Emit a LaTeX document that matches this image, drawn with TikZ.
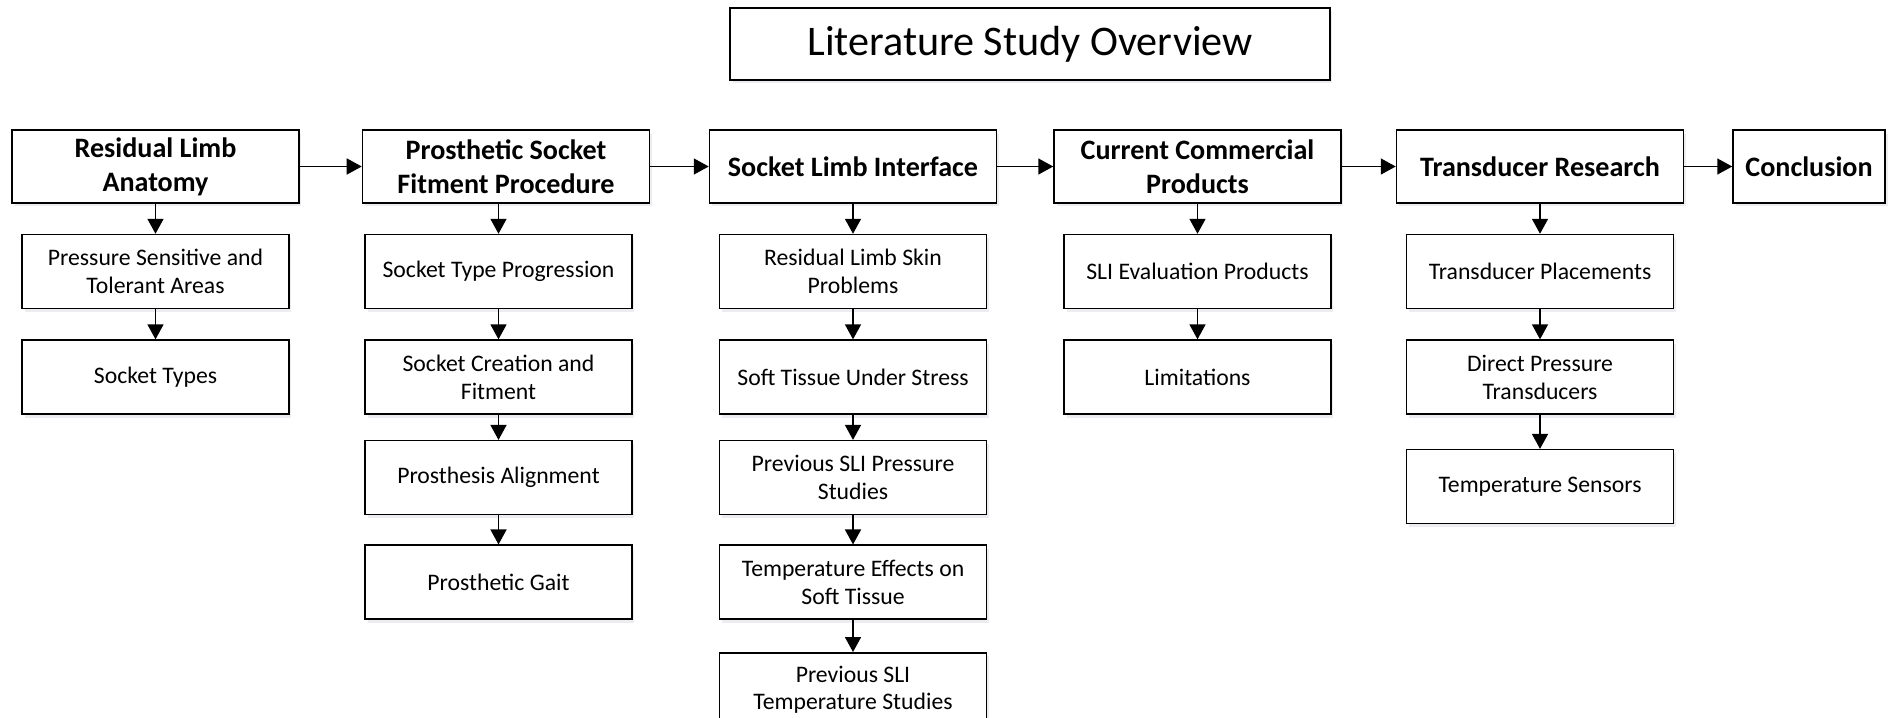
\documentclass[tikz,border=0pt]{standalone}
\usepackage{fontspec}
\setmainfont{Carlito}
\usetikzlibrary{arrows.meta,positioning,shadows}

\tikzset{
    box/.style={draw, line width=0.9pt, fill=white, align=center, inner sep=2pt,
        drop shadow={shadow xshift=0.05cm, shadow yshift=-0.07cm, fill=blue!30!black!15, opacity=0.5}},
    mainbox/.style={box, minimum width=5.74cm, minimum height=1.46cm,
        font=\fontsize{16}{19.5}\selectfont\bfseries},
    subbox/.style={box, minimum width=5.34cm, minimum height=1.48cm,
        font=\fontsize{13.5}{15.8}\selectfont},
    titlebox/.style={box, minimum width=12cm, minimum height=1.44cm,
        font=\fontsize{24}{28}\selectfont},
    arr/.style={-{Triangle[length=0.3cm,width=0.32cm]}, line width=0.9pt},
}

\begin{document}
\begin{tikzpicture}[x=0.02cm, y=-0.02cm, node distance=0.6cm]
        \useasboundingbox (0,0) rectangle (1892,717);
        % title
        \node[titlebox] (title) at (1030,44) {Literature Study Overview};
        % main row
        \node[mainbox] (anat)  at (155.5,166.5)  {Residual Limb\\Anatomy};
        \node[mainbox] (fit)   at (506,166.5)    {Prosthetic Socket\\Fitment Procedure};
        \node[mainbox] (sli)   at (853,166.5)    {Socket Limb Interface};
        \node[mainbox] (comm)  at (1197.5,166.5) {Current Commercial\\Products};
        \node[mainbox] (trans) at (1540,166.5)   {Transducer Research};
        \node[mainbox, minimum width=3.04cm] (concl) at (1809,166.5) {Conclusion};
        % anatomy
        \node[subbox, below=of anat]  (anat1) {Pressure Sensitive and\\Tolerant Areas};
        \node[subbox, below=of anat1] (anat2) {Socket Types};
        % fitment
        \node[subbox, below=of fit, xshift=-0.15cm] (fit1) {Socket Type Progression};
        \node[subbox, below=of fit1]              (fit2) {Socket Creation and\\Fitment};
        \node[subbox, below=0.5cm of fit2]        (fit3) {Prosthesis Alignment};
        \node[subbox, below=0.58cm of fit3]       (fit4) {Prosthetic Gait};
        % interface
        \node[subbox, below=of sli]               (sli1) {Residual Limb Skin\\Problems};
        \node[subbox, below=of sli1]              (sli2) {Soft Tissue Under Stress};
        \node[subbox, below=0.5cm of sli2]        (sli3) {Previous SLI Pressure\\Studies};
        \node[subbox, below=0.58cm of sli3]       (sli4) {Temperature Effects on\\Soft Tissue};
        \node[subbox, below=0.64cm of sli4]       (sli5) {Previous SLI\\Temperature Studies};
        % commercial
        \node[subbox, below=of comm]              (comm1) {SLI Evaluation Products};
        \node[subbox, below=of comm1]             (comm2) {Limitations};
        % transducers
        \node[subbox, below=of trans]             (trans1) {Transducer Placements};
        \node[subbox, below=of trans1]            (trans2) {Direct Pressure\\Transducers};
        \node[subbox, below=0.68cm of trans2]     (trans3) {Temperature Sensors};

        \draw[arr] (anat) -- (fit);
        \draw[arr] (fit) -- (sli);
        \draw[arr] (sli) -- (comm);
        \draw[arr] (comm) -- (trans);
        \draw[arr] (trans) -- (concl);

        \draw[arr] (anat) -- (anat1);
        \draw[arr] (anat1) -- (anat2);
        \draw[arr] (fit1.north |- fit.south) -- (fit1);
        \draw[arr] (fit1) -- (fit2);
        \draw[arr] (fit2) -- (fit3);
        \draw[arr] (fit3) -- (fit4);
        \draw[arr] (sli) -- (sli1);
        \draw[arr] (sli1) -- (sli2);
        \draw[arr] (sli2) -- (sli3);
        \draw[arr] (sli3) -- (sli4);
        \draw[arr] (sli4) -- (sli5);
        \draw[arr] (comm) -- (comm1);
        \draw[arr] (comm1) -- (comm2);
        \draw[arr] (trans) -- (trans1);
        \draw[arr] (trans1) -- (trans2);
        \draw[arr] (trans2) -- (trans3);
    \end{tikzpicture}
\end{document}
